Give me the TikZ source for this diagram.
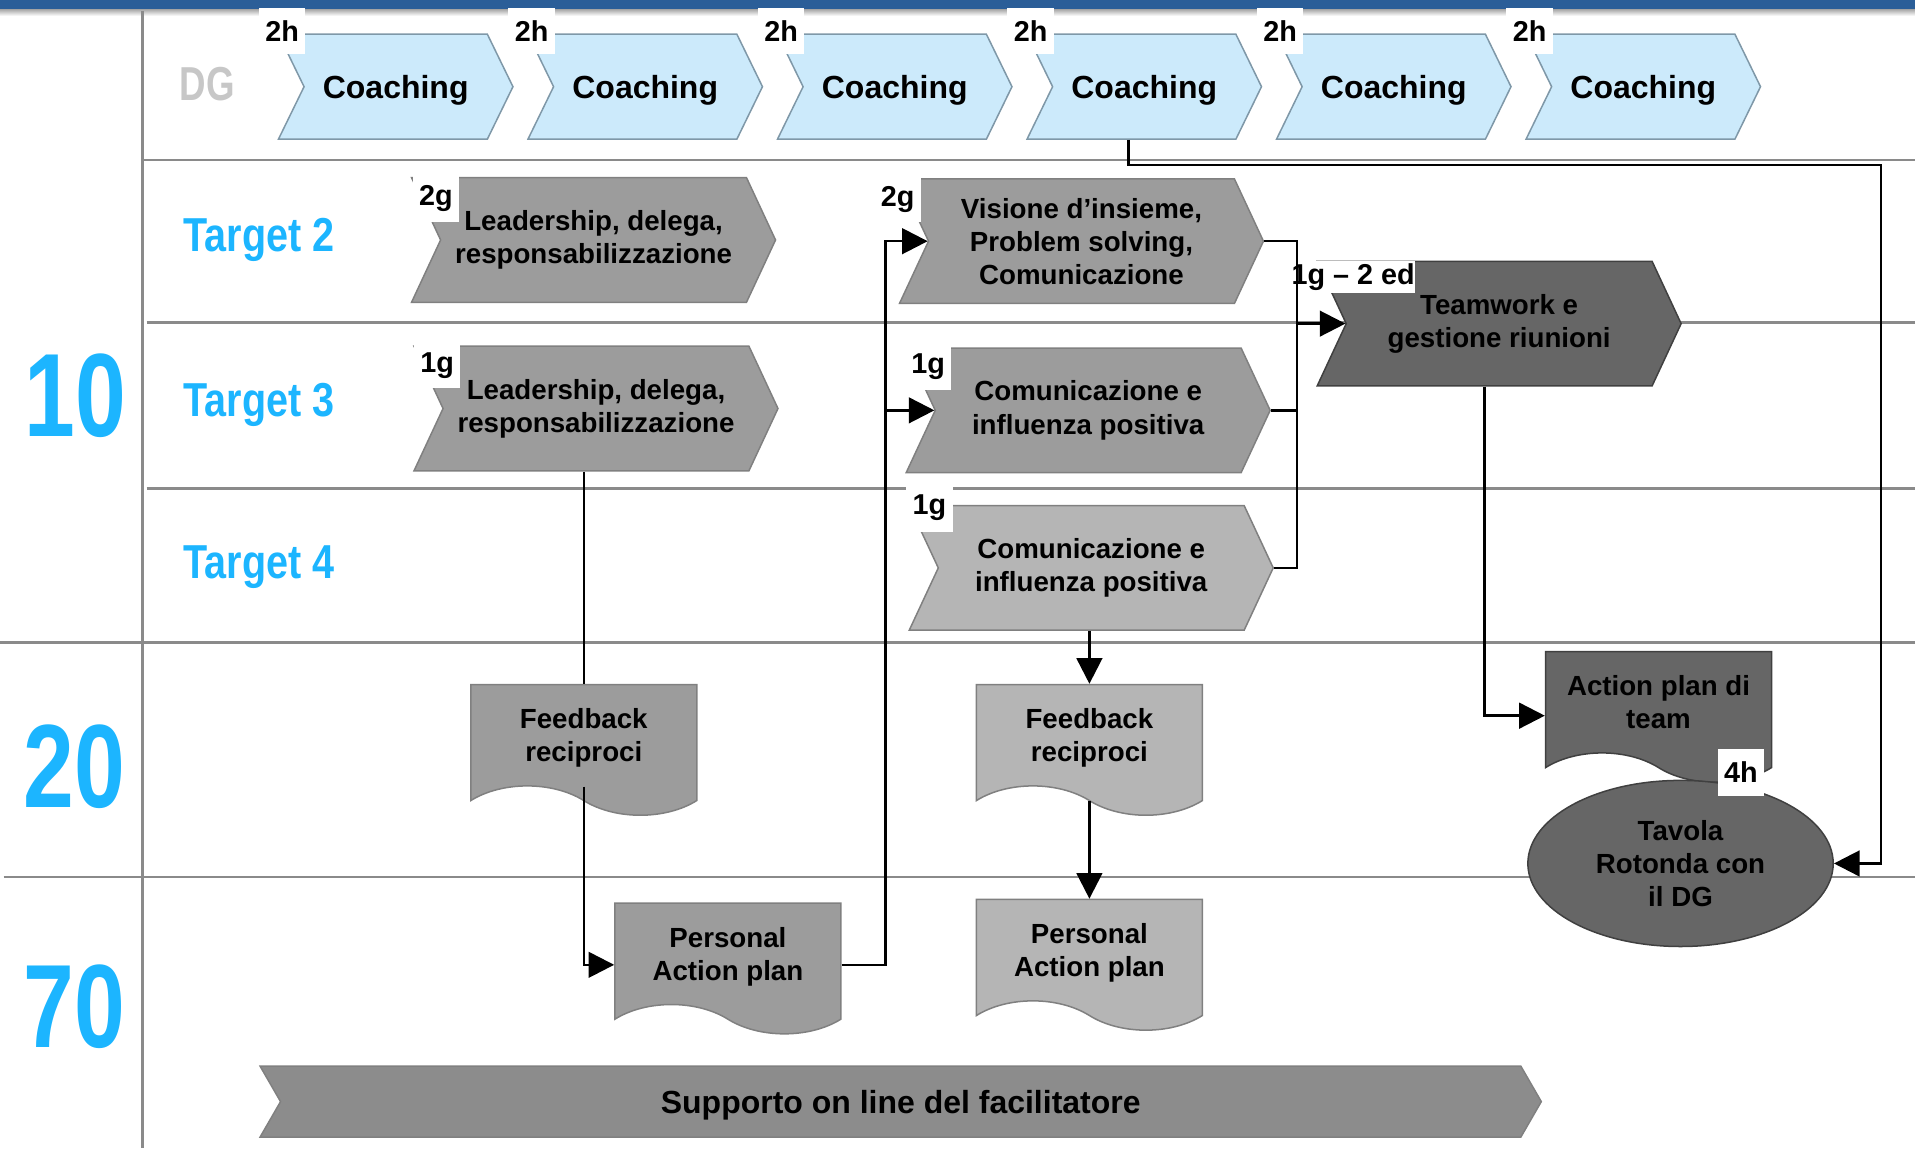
\documentclass[tikz,border=0pt]{standalone}
\usepackage{fontspec}
\setmainfont{Liberation Sans}
\newfontfamily\narrowfont[FakeStretch=0.83]{Liberation Sans}
\newfontfamily\numfont[FakeStretch=0.77]{Liberation Sans}
\usepackage{tikz}
\usetikzlibrary{shapes.symbols,shapes.geometric,arrows.meta,calc}
\definecolor{topblue}{HTML}{2B5E98}
\definecolor{numblue}{HTML}{1CB5FF}
\definecolor{gridgray}{HTML}{8A8A8A}
\definecolor{coachblue}{HTML}{CCEAFB}
\definecolor{coachedge}{HTML}{7F98A8}
\definecolor{midgray}{HTML}{9C9C9C}
\definecolor{palegray}{HTML}{B5B5B5}
\definecolor{deepgray}{HTML}{666666}
\definecolor{bargray}{HTML}{8C8C8C}
% bevel look: dark band at the bottom, light band at the top
\newcommand{\bevelshade}[2]{\pgfdeclareverticalshading{#1}{100bp}{color(0bp)=(#2!50!black); color(6bp)=(#2!75!black); color(11bp)=(#2); color(86bp)=(#2); color(92bp)=(#2!55!white); color(96bp)=(#2!80!white); color(100bp)=(#2!80!black)}}
\bevelshade{bvblue}{coachblue}
\bevelshade{bvmid}{midgray}
\bevelshade{bvpale}{palegray}
\bevelshade{bvdeep}{deepgray}
\bevelshade{bvbar}{bargray}

\begin{document}
\begin{tikzpicture}[x=0.2mm,y=-0.2mm,
    lane/.style={draw=gridgray,line width=1.3pt},
    bodyfont/.style={font=\bfseries\fontsize{12.9}{15.4}\selectfont},
    chev/.style={signal,signal from=west,signal to=east,signal pointer angle=130,
        draw=black!50,line width=0.7pt,shade,shading=bvmid,inner sep=0pt,align=center,bodyfont,
        minimum width=59.6mm,minimum height=20.4mm},
    coach/.style={chev,shading=bvblue,draw=coachedge,minimum width=38.4mm,minimum height=17.2mm,
        signal pointer angle=128,text depth=0pt,font=\bfseries\fontsize{14.9}{18}\selectfont},
    doc/.style={tape,tape bend top=none,tape bend bottom=out and in,tape bend height=4.8mm,
        draw=black!50,line width=0.7pt,shade,shading=bvmid,inner sep=0pt,align=center,bodyfont,
        text depth=0pt,minimum width=37mm,minimum height=21.4mm},
    tag/.style={fill=white,inner sep=0pt,minimum width=7.6mm,minimum height=7.6mm,
        font=\bfseries\fontsize{13.4}{16}\selectfont},
    lbl/.style={anchor=base west,inner sep=0pt,text=numblue,font=\narrowfont\bfseries\fontsize{22.2}{26}\selectfont},
    big/.style={anchor=base west,inner sep=0pt,text=numblue,font=\numfont\bfseries\fontsize{55.2}{60}\selectfont},
    conn/.style={line width=1.2pt},
    arr/.style={conn,-{Triangle[length=4.2mm,width=4.2mm]}}]
    \useasboundingbox (0,0) rectangle (1568,940);
    % frame
    \fill[topblue] (0,0) rectangle (1568,7.5);
    \shade[top color=black!35,bottom color=white] (0,7.5) rectangle (1568,13);
    \draw[lane] (117,9) -- (117,940);
    \draw[lane] (117,131) -- (1568,131);
    \draw[lane] (120,264) -- (1568,264);
    \draw[lane] (120,400) -- (1568,400);
    \draw[lane] (0,526) -- (1568,526);
    \draw[lane] (3,718) -- (1568,718);
    % row labels
    \node[big] (n10) at (20,357.5) {10};
    \node[big] (n20) at (19,661) {20};
    \node[big] (n70) at (19,858) {70};
    \node[lbl,text=black!22,font=\numfont\bfseries\fontsize{22.2}{26}\selectfont] (dg) at (147,82) {DG};
    \node[lbl] (t2) at (150,206) {Target 2};
    \node[lbl] (t3) at (150,341) {Target 3};
    \node[lbl] (t4) at (150,473.5) {Target 4};
    % coaching row
    \foreach \i in {1,...,6}{
        \node[coach] (co\i) at ({324+204.3*(\i-1)},71) {Coaching};
        \node[tag] (h\i) at ({231+204.3*(\i-1)},25.5) {2h};
    }
    % targets
    \node[chev] (a2) at (486,196.5) {Leadership, delega,\\responsabilizzazione};
    \node[chev] (v2) at (885.5,197.5) {Visione d’insieme,\\Problem solving,\\Comunicazione};
    \node[chev] (a3) at (488,334.5) {Leadership, delega,\\responsabilizzazione};
    \node[chev] (c3) at (891,336) {Comunicazione e\\influenza positiva};
    \node[chev,shading=bvpale] (c4) at (893.5,465) {Comunicazione e\\influenza positiva};
    \node[chev,shading=bvdeep,draw=black!75] (tw) at (1227.5,265) {Teamwork e\\gestione riunioni};
    \node[tag] (g2a) at (357,162.5) {2g};
    \node[tag] (g2v) at (735,163) {2g};
    \node[tag] (g1a) at (358,299) {1g};
    \node[tag] (g1c) at (760,300) {1g};
    \node[tag,minimum height=8.2mm] (g1d) at (761,415.5) {1g};
    \node[tag,minimum width=20.2mm,minimum height=5.2mm] (ed) at (1108,227) {1g -- 2 ed};
    % 20 / 70
    \node[doc] (fb1) at (478,602) {Feedback\\reciproci};
    \node[doc] (pa1) at (596,781) {Personal\\Action plan};
    \node[doc,shading=bvpale] (fb2) at (892,602) {Feedback\\reciproci};
    \node[doc,shading=bvpale] (pa2) at (892,778) {Personal\\Action plan};
    \node[doc,shading=bvdeep,draw=black!75] (apt) at (1358,575) {Action plan di\\team};
    \node[ellipse,draw=black!75,line width=0.7pt,shade,shading=bvdeep,bodyfont,align=center,
        minimum width=50mm,minimum height=27.2mm] (tav) at (1376,707) {Tavola\\Rotonda con\\il DG};
    \node[tag] (h4) at (1425.5,632.5) {4h};
    \node[chev,shading=bvbar,signal pointer angle=120,minimum width=209.8mm,minimum height=11.6mm,
        text depth=0pt,font=\bfseries\fontsize{14.9}{18}\selectfont] (sup) at (737.5,902) {Supporto on line del facilitatore};
    % connectors
    \coordinate (rt) at (1540,135);
    \coordinate (bus) at (725,0);
    \coordinate (bus2) at (1062,0);
    \draw[arr] ($(co4.south)+(-13,0)$) |- (rt) |- (tav.east);
    \draw[conn] (a3.south -| fb1.north) -- (fb1.north);
    \draw[arr] (fb1.south) |- ($(pa1.west)+(0,9)$);
    \draw[arr] ($(pa1.east)+(0,9)$) -| (bus |- v2.west) -- (v2.west);
    \draw[arr] (bus |- c3.west) -- (c3.west);
    \draw[conn] (v2.east) -| (bus2 |- c4.east) -- (c4.east);
    \draw[conn] (c3.east) -- (bus2 |- c3.east);
    \draw[arr] (bus2 |- tw.west) -- (tw.west);
    \draw[arr] ($(tw.south)+(-12,0)$) |- ($(apt.west)+(0,11)$);
    \draw[arr] (c4.south -| fb2.north) -- (fb2.north);
    \draw[arr] ($(fb2.south)+(0,12)$) -- (pa2.north);
\end{tikzpicture}
\end{document}
